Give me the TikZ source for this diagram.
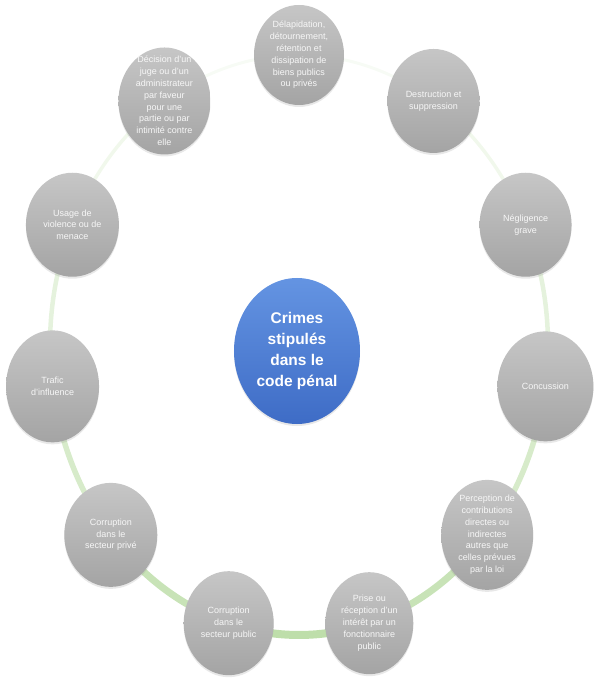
\documentclass[tikz,border=0pt]{standalone}
\usepackage{fontspec}
\setmainfont{Liberation Sans}
\usetikzlibrary{shapes.geometric,shadows}
\definecolor{ringgreen}{RGB}{190,222,170}
\definecolor{celltop}{RGB}{198,198,198}
\definecolor{cellbottom}{RGB}{164,164,164}
\definecolor{hubtop}{RGB}{100,148,226}
\definecolor{hubbottom}{RGB}{62,108,198}

\begin{document}
\begin{tikzpicture}[x=1pt, y=1pt,
    cell/.style={ellipse, inner sep=0pt, minimum width=92pt, minimum height=104pt,
        top color=celltop, bottom color=cellbottom,
        drop shadow={opacity=0.18, shadow xshift=0pt, shadow yshift=-2pt}},
    celltext/.style={inner sep=0pt, align=center, text=white!94!gray,
        font=\fontsize{9}{11.8}\selectfont},
    hub/.style={ellipse, inner sep=0pt, minimum width=126pt, minimum height=146pt,
        top color=hubtop, bottom color=hubbottom, align=center, text=white,
        font=\fontsize{15.5}{21}\selectfont\bfseries,
        drop shadow={opacity=0.18, shadow xshift=0pt, shadow yshift=-2pt}},
    ring/.style={line width=#1}]
\useasboundingbox (-299,-343) rectangle (300,345);

\draw[ring=3pt, ringgreen!12] (90:249 and 290) arc[start angle=90, end angle=57.3, x radius=249, y radius=290];
\draw[ring=3.5pt, ringgreen!22] (57.3:249 and 290) arc[start angle=57.3, end angle=24.5, x radius=249, y radius=290];
\draw[ring=4.5pt, ringgreen!40] (24.5:249 and 290) arc[start angle=24.5, end angle=-8.2, x radius=249, y radius=290];
\draw[ring=5.5pt, ringgreen!62] (-8.2:249 and 290) arc[start angle=-8.2, end angle=-40.9, x radius=249, y radius=290];
\draw[ring=7pt, ringgreen!85] (-40.9:249 and 290) arc[start angle=-40.9, end angle=-73.6, x radius=249, y radius=290];
\draw[ring=8pt, ringgreen] (-73.6:249 and 290) arc[start angle=-73.6, end angle=-106.4, x radius=249, y radius=290];
\draw[ring=7pt, ringgreen!85] (-106.4:249 and 290) arc[start angle=-106.4, end angle=-139.1, x radius=249, y radius=290];
\draw[ring=5.5pt, ringgreen!62] (-139.1:249 and 290) arc[start angle=-139.1, end angle=-171.8, x radius=249, y radius=290];
\draw[ring=4.5pt, ringgreen!40] (-171.8:249 and 290) arc[start angle=-171.8, end angle=-204.5, x radius=249, y radius=290];
\draw[ring=3.5pt, ringgreen!22] (155.5:249 and 290) arc[start angle=155.5, end angle=122.7, x radius=249, y radius=290];
\draw[ring=3pt, ringgreen!12] (122.7:249 and 290) arc[start angle=122.7, end angle=90, x radius=249, y radius=290];

\node[hub] (crimes) at (-2,-6) {Crimes\\stipulés\\dans le\\code pénal};

\node[cell, minimum width=90pt, minimum height=100pt, label={[celltext]center:{Délapidation,\\détournement,\\rétention et\\dissipation de\\biens publics\\ou privés}}] (delapidation) at (90:249 and 290) {};
\node[cell, label={[celltext]center:{Destruction et\\suppression}}] (destruction) at (57.3:249 and 290) {};
\node[cell, label={[celltext]center:{Négligence\\grave}}] (negligence) at (24.5:249 and 290) {};
\node[cell, minimum width=96pt, minimum height=110pt, label={[celltext]center:{Concussion}}] (concussion) at (-8.2:249 and 290) {};
\node[cell, minimum height=110pt, label={[celltext]center:{Perception de\\contributions\\directes ou\\indirectes\\autres que\\celles prévues\\par la loi}}] (perception) at (-40.9:249 and 290) {};
\node[cell, minimum width=88pt, minimum height=102pt, label={[celltext]center:{Prise ou\\réception d'un\\intérêt par un\\fonctionnaire\\public}}] (prise) at (-73.6:249 and 290) {};
\node[cell, minimum width=90pt, label={[celltext]center:{Corruption\\dans le\\secteur public}}] (corrpublic) at (-106.4:249 and 290) {};
\node[cell, minimum width=93pt, label={[celltext]center:{Corruption\\dans le\\secteur privé}}] (corrprive) at (-139.1:249 and 290) {};
\node[cell, minimum width=93pt, minimum height=112pt, label={[celltext]center:{Trafic\\d'influence}}] (trafic) at (-171.8:249 and 290) {};
\node[cell, minimum width=93pt, label={[celltext]center:{Usage de\\violence ou de\\menace}}] (usage) at (155.5:249 and 290) {};
\node[cell, minimum height=107pt, label={[celltext]center:{Décision d'un\\juge ou d'un\\administrateur\\par faveur\\pour une\\partie ou par\\intimité contre\\elle}}] (decision) at (122.7:249 and 290) {};
\end{tikzpicture}
\end{document}
